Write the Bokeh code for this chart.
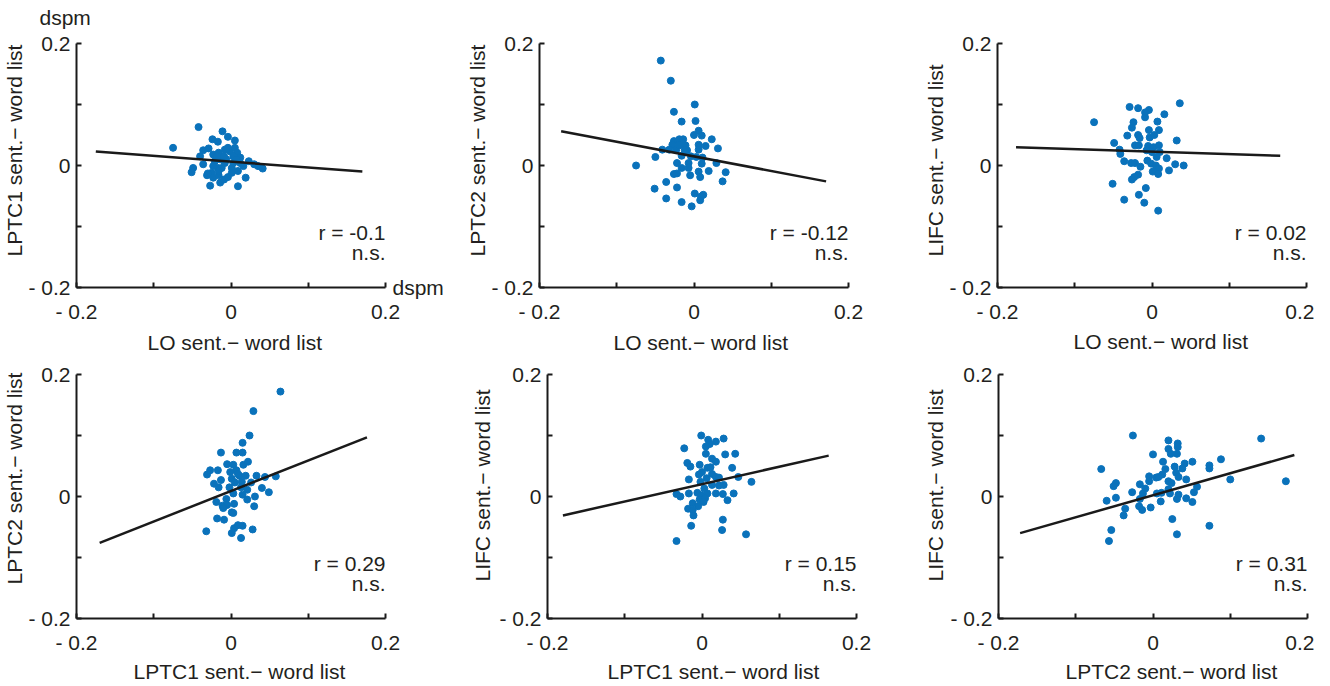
from bokeh.plotting import figure
from bokeh.models import FixedTicker, Label, Range1d, Title, LinearAxis
from bokeh.layouts import row, column
from bokeh.embed import file_html
from bokeh.resources import INLINE

# ---------------- data ----------------
x_titles = ["LO sent.\u2212 word list", "LO sent.\u2212 word list", "LO sent.\u2212 word list",
            "LPTC1 sent.\u2212 word list", "LPTC1 sent.\u2212 word list", "LPTC2 sent.\u2212 word list"]
y_titles = ["LPTC1 sent.\u2212 word list", "LPTC2 sent.\u2212 word list", "LIFC sent.\u2212 word list",
            "LPTC2 sent.\u2212 word list", "LIFC sent.\u2212 word list", "LIFC sent.\u2212 word list"]
r_texts = ["r = -0.1", "r = -0.12", "r = 0.02", "r = 0.29", "r = 0.15", "r = 0.31"]
sig_texts = ["n.s.", "n.s.", "n.s.", "n.s.", "n.s.", "n.s."]
tick_values = [-0.2, 0, 0.2]
minor_values = [-0.1, 0.1]
tick_labels = ["- 0.2", "0", "0.2"]
unit_text = "dspm"

p1_x = [-0.042, -0.075, -0.011, -0.004, -0.024, -0.017, 0.005, -0.036, -0.029, -0.040, -0.023, -0.016, -0.008,
        -0.001, 0.005, 0.008, 0.003, 0.012, -0.006, -0.014, -0.021, -0.036, -0.049, -0.051, -0.031, -0.025,
        -0.023, -0.016, -0.027, -0.014, -0.009, -0.004, 0.009, 0.019, 0.009, 0.001, -0.012, -0.017, -0.008,
        0.003, 0.012, 0.023, 0.030, 0.035, 0.041, 0.016, -0.009, 0.007, -0.016, 0.001, -0.023, -0.004, -0.018,
        -0.030]
p1_y = [0.063, 0.029, 0.056, 0.047, 0.043, 0.039, 0.041, 0.025, 0.028, 0.015, 0.018, 0.021, 0.026, 0.023, 0.029,
        0.021, 0.015, 0.013, 0.010, 0.010, 0.007, 0.002, -0.004, -0.011, -0.016, -0.012, -0.020, -0.016, -0.033,
        -0.028, -0.023, -0.019, -0.034, -0.020, -0.009, -0.004, -0.004, -0.004, 0.004, 0.004, 0.004, 0.007,
        0.002, -0.001, -0.005, -0.001, 0.015, 0.010, -0.009, -0.012, -0.001, 0.029, 0.015, -0.013]
p1_fit_x = [-0.175, 0.170]
p1_fit_y = [0.023, -0.010]

p2_x = [-0.043, -0.030, 0.001, -0.026, -0.016, 0.002, 0.006, 0.000, 0.010, 0.023, -0.026, -0.019, -0.014,
        -0.028, -0.011, 0.006, 0.015, 0.031, -0.041, -0.032, -0.023, -0.009, 0.006, -0.050, -0.016, -0.004,
        0.003, 0.011, -0.022, -0.007, 0.010, 0.029, -0.075, -0.016, -0.007, -0.026, -0.022, -0.005, 0.006,
        0.008, 0.019, 0.041, 0.037, -0.036, -0.051, -0.022, -0.036, -0.016, -0.003, 0.001, 0.008, 0.012,
        0.009, -0.012, -0.019]
p2_y = [0.172, 0.139, 0.100, 0.088, 0.072, 0.073, 0.057, 0.050, 0.049, 0.043, 0.040, 0.043, 0.043, 0.034, 0.033,
        0.034, 0.032, 0.028, 0.026, 0.026, 0.026, 0.025, 0.026, 0.014, 0.016, 0.015, 0.014, 0.013, 0.004, 0.004,
        0.003, 0.004, 0.000, -0.004, -0.004, -0.014, -0.013, -0.016, -0.010, -0.019, -0.009, -0.011, -0.026,
        -0.027, -0.038, -0.036, -0.054, -0.060, -0.067, -0.046, -0.057, -0.048, -0.051, 0.025, 0.033]
p2_fit_x = [-0.172, 0.171]
p2_fit_y = [0.056, -0.026]

p3_x = [0.036, -0.029, -0.018, -0.004, -0.009, -0.009, 0.016, -0.075, -0.024, 0.007, -0.026, 0.009, -0.004,
        -0.032, -0.018, -0.016, -0.003, 0.003, 0.032, -0.049, -0.022, -0.017, -0.005, 0.002, 0.009, -0.042,
        -0.041, -0.007, 0.000, 0.010, 0.006, 0.019, -0.036, -0.027, -0.022, -0.006, 0.030, 0.041, -0.015,
        -0.001, 0.005, 0.009, 0.022, 0.001, 0.008, -0.018, -0.023, -0.026, -0.051, -0.008, -0.017, -0.036,
        -0.010, 0.008]
p3_y = [0.102, 0.096, 0.094, 0.091, 0.087, 0.079, 0.084, 0.071, 0.071, 0.072, 0.062, 0.058, 0.058, 0.049, 0.050,
        0.045, 0.046, 0.050, 0.041, 0.037, 0.033, 0.033, 0.032, 0.030, 0.033, 0.026, 0.019, 0.025, 0.022, 0.022,
        0.014, 0.012, 0.007, 0.004, 0.004, 0.008, 0.002, 0.000, -0.002, 0.003, 0.000, -0.005, -0.008, -0.010,
        -0.014, -0.015, -0.019, -0.023, -0.030, -0.037, -0.048, -0.056, -0.061, -0.074]
p3_fit_x = [-0.176, 0.166]
p3_fit_y = [0.030, 0.016]

p4_x = [0.064, 0.029, 0.024, 0.015, -0.013, 0.007, 0.015, -0.005, 0.003, 0.016, 0.022, -0.031, -0.027, -0.017,
        -0.001, 0.007, 0.011, 0.019, 0.033, 0.044, 0.058, -0.013, 0.001, 0.005, 0.014, 0.026, -0.022, -0.016,
        -0.002, 0.013, 0.021, 0.040, 0.049, 0.003, 0.015, 0.031, -0.006, 0.021, -0.019, -0.011, -0.005, 0.004,
        0.030, -0.010, 0.001, 0.003, -0.018, -0.009, -0.032, 0.004, 0.009, 0.015, 0.028, 0.001, 0.013, 0.009]
p4_y = [0.172, 0.140, 0.100, 0.088, 0.072, 0.072, 0.072, 0.053, 0.052, 0.052, 0.057, 0.036, 0.043, 0.043, 0.040,
        0.043, 0.034, 0.034, 0.034, 0.032, 0.033, 0.027, 0.029, 0.023, 0.024, 0.023, 0.021, 0.015, 0.015, 0.015,
        0.011, 0.014, 0.007, 0.005, 0.003, 0.000, -0.004, -0.005, -0.009, -0.015, -0.014, -0.012, -0.016,
        -0.019, -0.026, -0.027, -0.036, -0.038, -0.057, -0.052, -0.047, -0.048, -0.054, -0.060, -0.068, 0.037]
p4_fit_x = [-0.170, 0.176]
p4_fit_y = [-0.076, 0.097]

p5_x = [-0.001, 0.008, 0.028, 0.018, 0.010, 0.005, -0.023, 0.005, 0.030, 0.043, 0.013, 0.018, -0.019, -0.015,
        -0.003, 0.007, 0.011, 0.039, 0.000, -0.004, 0.013, -0.017, 0.006, 0.018, 0.022, 0.047, -0.002, 0.064,
        0.013, 0.022, 0.028, 0.003, -0.033, -0.028, -0.017, -0.006, -0.001, 0.007, 0.018, 0.027, 0.041, -0.003,
        0.004, 0.033, -0.012, 0.002, -0.018, -0.005, -0.012, -0.011, 0.027, -0.014, 0.026, 0.057, -0.033]
p5_y = [0.100, 0.093, 0.095, 0.090, 0.086, 0.082, 0.079, 0.070, 0.069, 0.070, 0.062, 0.057, 0.055, 0.049, 0.052,
        0.047, 0.048, 0.047, 0.040, 0.036, 0.037, 0.028, 0.030, 0.032, 0.031, 0.032, 0.024, 0.024, 0.019, 0.018,
        0.019, 0.013, 0.004, 0.000, 0.005, 0.006, 0.002, 0.005, 0.005, 0.004, 0.005, -0.005, -0.003, -0.006,
        -0.011, -0.009, -0.020, -0.016, -0.022, -0.031, -0.038, -0.048, -0.055, -0.062, -0.073]
p5_fit_x = [-0.180, 0.164]
p5_fit_y = [-0.031, 0.067]

p6_x = [-0.026, 0.140, 0.020, 0.032, 0.032, 0.020, 0.023, 0.031, 0.000, 0.088, 0.013, 0.051, 0.041, 0.073,
        -0.067, 0.028, 0.038, 0.073, 0.016, 0.012, 0.030, -0.005, 0.004, 0.007, 0.033, 0.043, 0.100, 0.172,
        -0.048, -0.051, -0.005, 0.020, -0.017, 0.024, 0.057, -0.010, 0.020, -0.027, -0.013, 0.005, 0.011, 0.022,
        0.033, 0.053, -0.048, -0.060, -0.017, 0.010, 0.031, 0.043, 0.051, -0.003, -0.036, -0.018, -0.014,
        -0.038, 0.025, 0.073, -0.054, 0.031, -0.057]
p6_y = [0.100, 0.095, 0.092, 0.087, 0.081, 0.078, 0.070, 0.070, 0.069, 0.061, 0.057, 0.057, 0.054, 0.051, 0.045,
        0.049, 0.046, 0.046, 0.045, 0.036, 0.039, 0.033, 0.031, 0.032, 0.032, 0.028, 0.028, 0.025, 0.022, 0.017,
        0.025, 0.025, 0.020, 0.022, 0.016, 0.013, 0.012, 0.007, 0.005, 0.005, 0.006, 0.005, 0.003, 0.007,
        -0.002, -0.007, -0.004, -0.008, -0.004, -0.003, -0.009, -0.018, -0.020, -0.016, -0.022, -0.031, -0.037,
        -0.048, -0.055, -0.062, -0.073]
p6_fit_x = [-0.172, 0.183]
p6_fit_y = [-0.060, 0.068]

# ---------------- styling / layout ----------------
FONT = "Liberation Sans"
FS = "21px"
TXT = "#231f20"
DOT = "#0a72bb"
LINE = "#1a1a1a"
FW, FH = 309, 244
YPX = 0.4 / FH

# (left, right, top, bottom borders, extra frame px above 0.2,
#  ytitle standoff, ytitle offset up, xtitle offset right, xtitle standoff)
geom = [
    (76, 70, 29, 68, 14, 0, 31, 71, 6),
    (84, 62, 29, 68, 14, 0, 31, 74, 6),
    (87, 8, 29, 68, 14, 0, 31, 76, 5),
    (76, 70, 18, 64, 0, 0, 34, 57, 3),
    (92, 54, 18, 64, 0, 6, 37, 60, 3),
    (88, 7, 18, 64, 0, 1, 37, 67, 3),
]

series = [
    (p1_x, p1_y, p1_fit_x, p1_fit_y),
    (p2_x, p2_y, p2_fit_x, p2_fit_y),
    (p3_x, p3_y, p3_fit_x, p3_fit_y),
    (p4_x, p4_y, p4_fit_x, p4_fit_y),
    (p5_x, p5_y, p5_fit_x, p5_fit_y),
    (p6_x, p6_y, p6_fit_x, p6_fit_y),
]


def lab(p, x, y, text, **kw):
    p.add_layout(Label(x=x, y=y, text=text, text_font=FONT, text_font_size=FS,
                       text_color=TXT, **kw))


def title(text, align, offset, standoff):
    return Title(text=text, align=align, offset=offset, standoff=standoff, text_font=FONT,
                 text_font_size=FS, text_font_style="normal", text_color=TXT)


figs = []
for i, ((xs, ys, fx, fy), g) in enumerate(zip(series, geom)):
    bl, br, bt, bb, ext, ystand, yoff, xoff, xstand = g
    p = figure(frame_width=FW, frame_height=FH + ext,
               min_border_left=bl, min_border_right=br, min_border_top=bt, min_border_bottom=bb,
               x_range=Range1d(-0.2, 0.2), y_range=Range1d(-0.2, 0.2 + ext * YPX),
               output_backend="svg", toolbar_location=None, tools="")
    p.outline_line_color = None
    p.grid.visible = False
    p.background_fill_color = "white"
    p.border_fill_color = "white"

    for ax in (p.xaxis[0], p.yaxis[0]):
        ax.ticker = FixedTicker(ticks=tick_values, minor_ticks=minor_values)
        ax.major_label_overrides = {v: t for v, t in zip(tick_values, tick_labels)}
        ax.bounds = (-0.2, 0.2)
        ax.axis_line_width = 2
        ax.axis_line_color = LINE
        ax.major_tick_line_width = 2
        ax.major_tick_line_color = LINE
        ax.minor_tick_line_width = 2
        ax.minor_tick_line_color = LINE
        ax.major_tick_in = 5
        ax.major_tick_out = 0
        ax.minor_tick_in = 5
        ax.minor_tick_out = 0
        ax.major_label_text_font = FONT
        ax.major_label_text_font_size = FS
        ax.major_label_text_color = TXT
    p.xaxis.major_label_standoff = 12
    p.yaxis.major_label_standoff = 6

    p.scatter(xs, ys, size=7, color=DOT, line_color=DOT)
    p.line(fx, fy, line_width=2.5, line_color=LINE)

    # axis titles
    p.add_layout(title(y_titles[i], "left", yoff, ystand), "left")
    p.add_layout(title(x_titles[i], "left", xoff, xstand), "below")

    # statistics
    lab(p, 0.2, -0.11, r_texts[i], text_align="right", text_baseline="middle")
    lab(p, 0.2, -0.143, sig_texts[i], text_align="right", text_baseline="middle")

    if i == 0:
        p.add_layout(title(unit_text, "left", -37, 2), "above")
        unit_axis = LinearAxis(ticker=FixedTicker(ticks=[-0.2]),
                               major_label_overrides={-0.2: unit_text},
                               axis_line_color=None, major_tick_line_color=None,
                               minor_tick_line_color=None, major_tick_in=0, major_tick_out=0,
                               major_label_standoff=7, major_label_text_font=FONT,
                               major_label_text_font_size=FS, major_label_text_color=TXT)
        p.add_layout(unit_axis, "right")
    figs.append(p)

layout = column(row(figs[0], figs[1], figs[2]), row(figs[3], figs[4], figs[5]))
open("out.html", "w").write(file_html(layout, INLINE))
